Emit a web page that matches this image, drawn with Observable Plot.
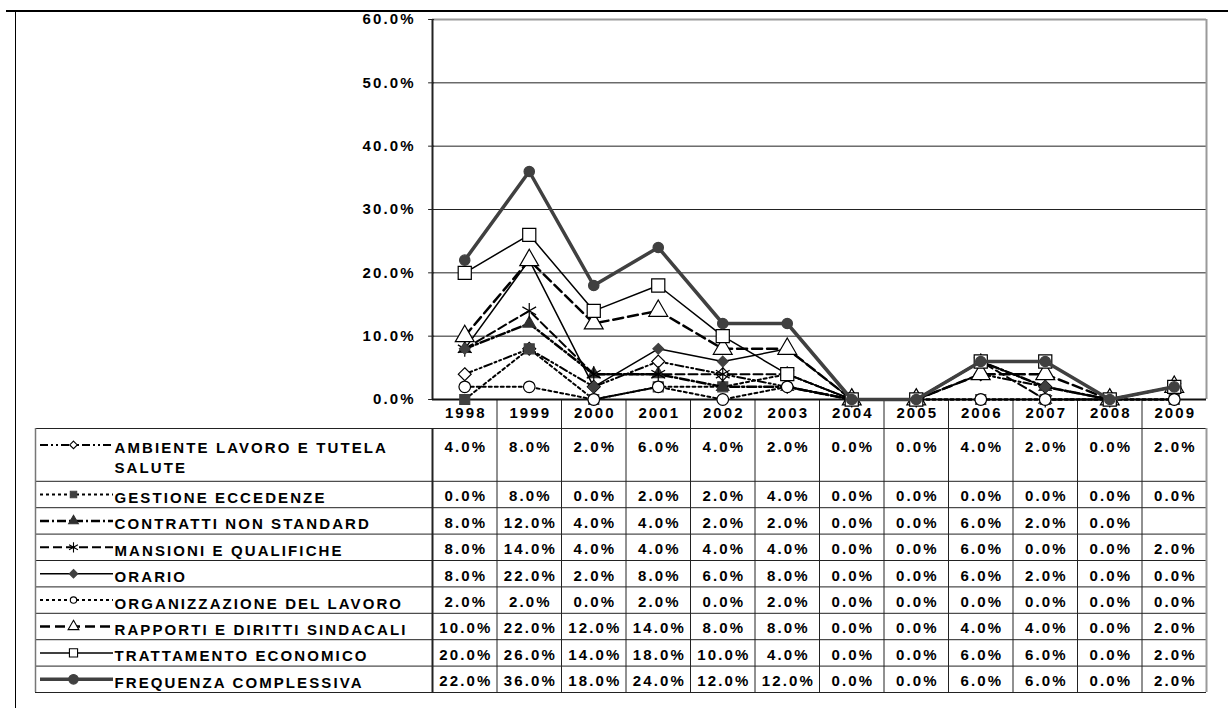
<!DOCTYPE html>
<html><head><meta charset="utf-8">
<script src="https://cdn.jsdelivr.net/npm/d3@7"></script>
<script src="https://cdn.jsdelivr.net/npm/@observablehq/plot@0.6"></script>
<style>
html,body{margin:0;padding:0;background:#fff;}
#wrap{position:relative;width:1228px;height:708px;overflow:hidden;background:#fff;}
#topline{position:absolute;left:6px;top:10px;width:1222px;height:2px;background:#000;z-index:3;}
#leftline{position:absolute;left:15px;top:11px;width:1px;height:697px;background:#000;}
#chart{position:absolute;left:0;top:0;z-index:2;}
#table{position:absolute;left:0;top:428px;z-index:1;}
svg{overflow:visible;}
</style></head><body>
<div id="wrap"><div id="topline"></div><div id="leftline"></div><div id="chart"></div><div id="table"></div></div>
<script>
// ---------- DATA ----------
const years = [1998, 1999, 2000, 2001, 2002, 2003, 2004, 2005, 2006, 2007, 2008, 2009];
const seriesNames = [
  "AMBIENTE LAVORO E TUTELA\nSALUTE",
  "GESTIONE ECCEDENZE",
  "CONTRATTI NON STANDARD",
  "MANSIONI E QUALIFICHE",
  "ORARIO",
  "ORGANIZZAZIONE DEL LAVORO",
  "RAPPORTI E DIRITTI SINDACALI",
  "TRATTAMENTO ECONOMICO",
  "FREQUENZA COMPLESSIVA"
];
const ambiente       = [4, 8, 2, 6, 4, 2, 0, 0, 4, 2, 0, 2];
const gestione       = [0, 8, 0, 2, 2, 4, 0, 0, 0, 0, 0, 0];
const contratti      = [8, 12, 4, 4, 2, 2, 0, 0, 6, 2, 0, null];
const mansioni       = [8, 14, 4, 4, 4, 4, 0, 0, 6, 0, 0, 2];
const orario         = [8, 22, 2, 8, 6, 8, 0, 0, 6, 2, 0, 0];
const organizzazione = [2, 2, 0, 2, 0, 2, 0, 0, 0, 0, 0, 0];
const rapporti       = [10, 22, 12, 14, 8, 8, 0, 0, 4, 4, 0, 2];
const trattamento    = [20, 26, 14, 18, 10, 4, 0, 0, 6, 6, 0, 2];
const frequenza      = [22, 36, 18, 24, 12, 12, 0, 0, 6, 6, 0, 2];
const yTicks = [0, 0.1, 0.2, 0.3, 0.4, 0.5, 0.6];

const allSeries = [ambiente, gestione, contratti, mansioni, orario, organizzazione, rapporti, trattamento, frequenza];

// ---------- STYLES ----------
const seriesStyle = [
  {stroke: "#000", width: 2,   dash: "8,3,2,3,2,3", symbol: "diamond2", fill: "#fff",    mstroke: "#000",    r: 5.8, lr: 3.4},
  {stroke: "#000", width: 2,   dash: "3,3",         symbol: "square",   fill: "#404040", mstroke: "#404040", r: 5.6, lr: 3.6},
  {stroke: "#000", width: 2.5, dash: "9,3,2,3",     symbol: "triangle", fill: "#303030", mstroke: "#303030", r: 4.6, lr: 3.6},
  {stroke: "#000", width: 2,   dash: "9,4",         symbol: "asterisk", fill: "none",    mstroke: "#000",    r: 7.5, lr: 4.8},
  {stroke: "#000", width: 1.5, dash: undefined,     symbol: "diamond2", fill: "#404040", mstroke: "#404040", r: 4.8, lr: 3.8},
  {stroke: "#000", width: 2,   dash: "3,3",         symbol: "circle",   fill: "#fff",    mstroke: "#000",    r: 5.8, lr: 3.2},
  {stroke: "#000", width: 2.5, dash: "10,5",        symbol: "triangle", fill: "#fff",    mstroke: "#000",    r: 7,   lr: 4},
  {stroke: "#000", width: 1.5, dash: undefined,     symbol: "square",   fill: "#fff",    mstroke: "#000",    r: 7.4, lr: 4.6},
  {stroke: "#404040", width: 3.5, dash: undefined,  symbol: "circle",   fill: "#404040", mstroke: "#404040", r: 5.2, lr: 4.8}
];

// ---------- LAYOUT ----------
const W = 1228, mR = 22, chartLeft = 432, tableLeft = 35;
const colW = (W - mR - chartLeft) / years.length;
const x0 = years[0] - 0.5, x1 = years[years.length - 1] + 0.5;
const labelStart = x0 - (chartLeft - tableLeft) / colW;
const xl = px => labelStart + px / colW;
const fmt = d3.format(".1%");
const FONT = "'Liberation Sans', Arial, Helvetica, sans-serif";
const FS = 15;
const LS = 2.1;

const records = seriesNames.flatMap((name, i) => years.map((year, j) => ({
  i, name, year, value: allSeries[i][j] == null ? NaN : allSeries[i][j] / 100
})));
const boundaries = [x0, ...years.map(y => y + 0.5)];

// ---------- CHART ----------
const chart = Plot.plot({
  width: W, height: 428,
  marginTop: 19, marginBottom: 29, marginLeft: chartLeft, marginRight: mR,
  style: {fontFamily: FONT, fontWeight: "bold", letterSpacing: LS + "px", color: "#000", background: "transparent", overflow: "visible"},
  x: {domain: [x0, x1], axis: null, label: null},
  y: {domain: [0, 0.6], axis: null, label: null},
  marks: [
    Plot.gridY(yTicks.filter(t => t > 0 && t < 0.6), {stroke: "#222", strokeOpacity: 1, strokeWidth: 1}),
    Plot.ruleY([0.6], {stroke: "#9a9a9a", strokeWidth: 2}),
    Plot.ruleX([x1], {stroke: "#9a9a9a", strokeWidth: 2}),
    Plot.axisX(boundaries.slice(1, -1), {tickSize: 29, tickFormat: () => "", stroke: "#222", label: null}),
    Plot.axisX(years, {tickSize: 0, tickPadding: 8, tickFormat: d => String(d), fontSize: FS, fontWeight: "bold", dx: LS / 2, label: null}),
    Plot.axisY(yTicks, {tickSize: 6, tickPadding: 13, tickFormat: fmt, fontSize: FS, fontWeight: "bold", dx: LS, stroke: "#222", label: null}),
    Plot.ruleX([x0], {stroke: "#222", strokeWidth: 2}),
    Plot.ruleY([0], {stroke: "#111", strokeWidth: 2}),
    ...seriesNames.flatMap((name, i) => {
      const s = seriesStyle[i];
      const data = records.filter(d => d.i === i && !isNaN(d.value));
      return [
        Plot.line(data, {x: "year", y: "value", stroke: s.stroke, strokeWidth: s.width, strokeDasharray: s.dash, strokeLinejoin: "round"}),
        Plot.dot(data, {x: "year", y: "value", symbol: s.symbol, r: s.r, fill: s.fill, stroke: s.mstroke, strokeWidth: 1.2})
      ];
    })
  ]
});
document.getElementById("chart").append(chart);

// ---------- TABLE ----------
const rowLines = seriesNames.map(n => n.split("\n").length);
const rowStart = Array.from(d3.cumsum([0, ...rowLines]));
const rows = seriesNames.map((name, i) => ({i, name, start: rowStart[i], end: rowStart[i + 1], lines: rowLines[i]}));
const tableEnd = rowStart[rowStart.length - 1];

const table = Plot.plot({
  width: W, height: 280,
  marginTop: 0, marginBottom: 16, marginLeft: tableLeft, marginRight: mR,
  style: {fontFamily: FONT, fontWeight: "bold", letterSpacing: LS + "px", color: "#000", background: "transparent", overflow: "visible"},
  x: {domain: [labelStart, x1], axis: null},
  y: {domain: [0, tableEnd], reverse: true, axis: null},
  marks: [
    Plot.ruleY(rowStart, {stroke: "#222", strokeWidth: 1}),
    Plot.ruleX(boundaries.slice(1, -1), {y1: 0, y2: tableEnd, stroke: "#222", strokeWidth: 1}),
    Plot.ruleX([x0], {y1: 0, y2: tableEnd, stroke: "#222", strokeWidth: 2}),
    Plot.ruleX([labelStart], {y1: 0, y2: tableEnd, stroke: "#777", strokeWidth: 1.5}),
    Plot.ruleX([x1], {y1: 0, y2: tableEnd, stroke: "#9a9a9a", strokeWidth: 2}),
    ...rows.flatMap(r => {
      const s = seriesStyle[r.i];
      const dyFirst = 2 - (r.lines - 1) * 10;
      const yMid = (r.start + r.end) / 2;
      const vals = records.filter(d => d.i === r.i && !isNaN(d.value));
      return [
        Plot.text(vals, {x: "year", y: () => yMid, text: d => fmt(d.value), fontSize: FS, fontWeight: "bold", dx: LS / 2, dy: dyFirst}),
        Plot.text([r], {x: () => labelStart, y: () => yMid, text: "name", textAnchor: "start", lineAnchor: "middle", lineHeight: 20 / FS, fontSize: FS, fontWeight: "bold", dx: 79, dy: 2, ariaLabel: "labels"}),
        Plot.ruleY([r], {y: () => yMid, x1: () => xl(5), x2: () => xl(78), stroke: s.stroke, strokeWidth: s.width, strokeDasharray: s.dash, dy: dyFirst - 2}),
        Plot.dot([r], {x: () => xl(38), y: () => yMid, symbol: s.symbol, r: s.lr, fill: s.fill, stroke: s.mstroke, strokeWidth: 1.1, dy: dyFirst - 2})
      ];
    })
  ]
});
d3.select(table).selectAll('g[aria-label="labels"] text').style("letter-spacing", "2.6px");
document.getElementById("table").append(table);
</script>
</body></html>
